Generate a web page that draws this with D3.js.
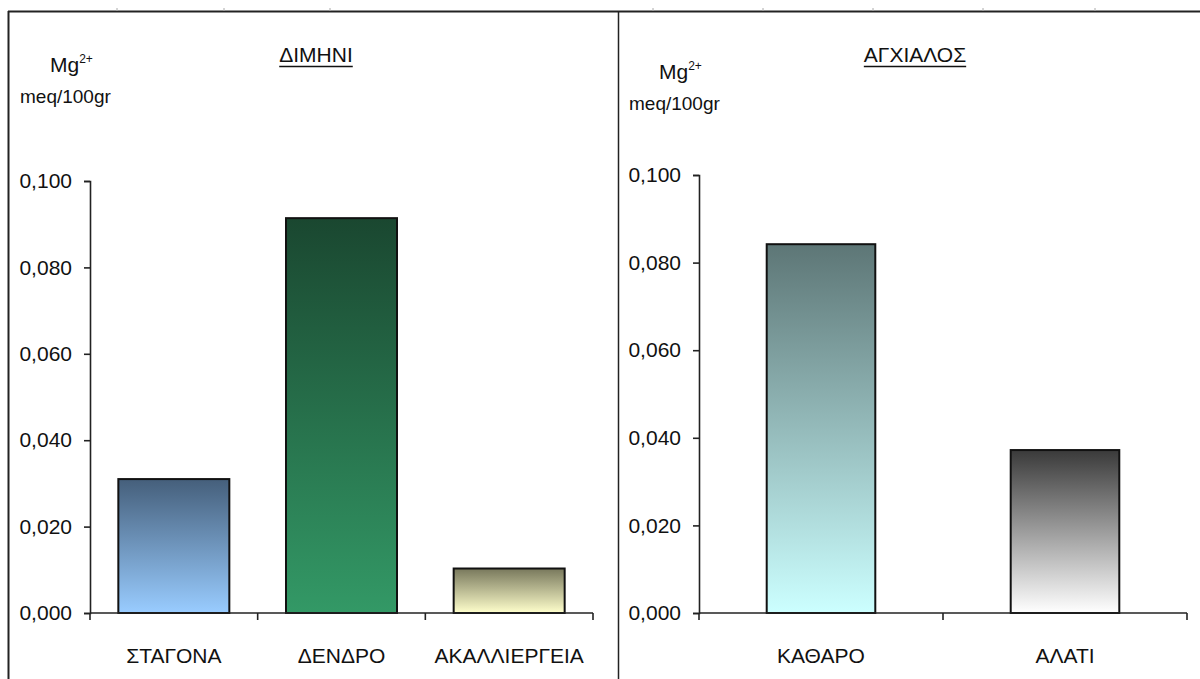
<!DOCTYPE html>
<html>
<head>
<meta charset="utf-8">
<script src="https://cdn.jsdelivr.net/npm/d3@7"></script>
<style>
  html, body { margin: 0; padding: 0; background: #fff; }
  svg text { font-family: "Liberation Sans", Arial, sans-serif; fill: #111; }
</style>
</head>
<body>
<svg id="chart" width="1200" height="679"></svg>
<script>
// Mg2+ (meq/100gr) per soil treatment, two sites
const diminiCategories = ["ΣΤΑΓΟΝΑ", "ΔΕΝΔΡΟ", "ΑΚΑΛΛΙΕΡΓΕΙΑ"];
const diminiValues = [0.031, 0.0914, 0.0103];
const diminiGradients = [["#455f7b", "#99ccff"], ["#1a4730", "#339966"], ["#78785c", "#ffffcc"]];

const anchialosCategories = ["ΚΑΘΑΡΟ", "ΑΛΑΤΙ"];
const anchialosValues = [0.0842, 0.0372];
const anchialosGradients = [["#5d7676", "#ccffff"], ["#3a3a3a", "#ffffff"]];

const yTicks = [0, 0.02, 0.04, 0.06, 0.08, 0.1];
const titles = ["ΔΙΜΗΝΙ", "ΑΓΧΙΑΛΟΣ"];
const rulerMarks = [117, 224, 330, 653, 763, 873, 983, 1095];

const FS = 21;
const svg = d3.select("#chart");
const defs = svg.append("defs");
const fmt = v => d3.format(".3f")(v).replace(".", ",");

// page frame: top rule, left edge and the divider between the two panels
svg.append("line").attr("x1", 8).attr("x2", 1200).attr("y1", 11.5).attr("y2", 11.5)
  .attr("stroke", "#222").attr("stroke-width", 2);
svg.append("line").attr("x1", 8.5).attr("x2", 8.5).attr("y1", 11).attr("y2", 679)
  .attr("stroke", "#222").attr("stroke-width", 2);
svg.append("line").attr("x1", 618.5).attr("x2", 618.5).attr("y1", 11).attr("y2", 679)
  .attr("stroke", "#222").attr("stroke-width", 1.5);
svg.selectAll(".ruler").data(rulerMarks).join("line")
  .attr("x1", d => d).attr("x2", d => d).attr("y1", 8).attr("y2", 11)
  .attr("stroke", "#aaa").attr("stroke-width", 1);

function panel(cfg) {
  const g = svg.append("g");
  const y = d3.scaleLinear().domain([0, 0.1]).range([cfg.base, cfg.top]);
  const x = d3.scaleBand().domain(cfg.categories).range([cfg.x0, cfg.x1])
    .paddingInner(cfg.pad).paddingOuter(cfg.pad / 2);

  cfg.gradients.forEach((c, i) => {
    const lg = defs.append("linearGradient").attr("id", cfg.id + i)
      .attr("x1", 0).attr("x2", 0).attr("y1", 0).attr("y2", 1);
    lg.append("stop").attr("offset", "0%").attr("stop-color", c[0]);
    lg.append("stop").attr("offset", "100%").attr("stop-color", c[1]);
  });

  // bars
  g.selectAll("rect.bar").data(cfg.values).join("rect")
    .attr("class", "bar")
    .attr("x", (d, i) => x(cfg.categories[i]))
    .attr("width", x.bandwidth())
    .attr("y", d => y(d))
    .attr("height", d => y(0) - y(d))
    .attr("fill", (d, i) => `url(#${cfg.id}${i})`)
    .attr("stroke", "#111").attr("stroke-width", 2);

  // y axis
  const ya = g.append("g").attr("transform", `translate(${cfg.x0},0)`)
    .call(d3.axisLeft(y).tickValues(yTicks).tickFormat(fmt).tickSize(6).tickSizeOuter(6).tickPadding(12));
  ya.attr("font-size", FS).attr("font-family", "'Liberation Sans', Arial, sans-serif");
  ya.select(".domain").attr("stroke", "#222").attr("stroke-width", 1.6);
  ya.selectAll(".tick line").attr("stroke", "#222").attr("stroke-width", 1.6);
  ya.selectAll(".tick text").attr("fill", "#111");

  // x axis baseline with category boundary ticks
  const bounds = [cfg.x0].concat(cfg.categories.map(c => x(c) + x.bandwidth() + x.step() * cfg.pad / 2));
  g.append("line").attr("x1", cfg.x0).attr("x2", cfg.x1)
    .attr("y1", y(0)).attr("y2", y(0)).attr("stroke", "#222").attr("stroke-width", 1.6);
  g.selectAll("line.bt").data(bounds).join("line").attr("class", "bt")
    .attr("x1", d => d).attr("x2", d => d).attr("y1", y(0)).attr("y2", y(0) + 7)
    .attr("stroke", "#222").attr("stroke-width", 1.6);
  g.selectAll("text.cat").data(cfg.categories).join("text").attr("class", "cat")
    .attr("x", d => x(d) + x.bandwidth() / 2).attr("y", 663)
    .attr("text-anchor", "middle").attr("font-size", FS).text(d => d);

  // unit label
  const mg = g.append("text").attr("x", cfg.unitX).attr("y", cfg.mgY).attr("font-size", FS);
  mg.append("tspan").text("Mg");
  mg.append("tspan").attr("dy", -9).attr("font-size", 12).text("2+");
  g.append("text").attr("x", cfg.unitX - 30).attr("y", cfg.mgY + 31).attr("font-size", 19).text("meq/100gr");

  // panel title, underlined
  const t = g.append("text").attr("x", cfg.titleX).attr("y", 62)
    .attr("text-anchor", "middle").attr("font-size", FS).text(cfg.title);
  const w = t.node().getComputedTextLength();
  g.append("line").attr("x1", cfg.titleX - w / 2).attr("x2", cfg.titleX + w / 2)
    .attr("y1", 66.5).attr("y2", 66.5).attr("stroke", "#111").attr("stroke-width", 1.5);
}

panel({ id: "gd", categories: diminiCategories, values: diminiValues, gradients: diminiGradients,
  x0: 90, x1: 593, top: 181, base: 613, pad: 0.338, unitX: 50, mgY: 72, titleX: 316, title: titles[0] });
panel({ id: "ga", categories: anchialosCategories, values: anchialosValues, gradients: anchialosGradients,
  x0: 699, x1: 1187, top: 175, base: 613, pad: 0.555, unitX: 659, mgY: 79, titleX: 915, title: titles[1] });
</script>
</body>
</html>
